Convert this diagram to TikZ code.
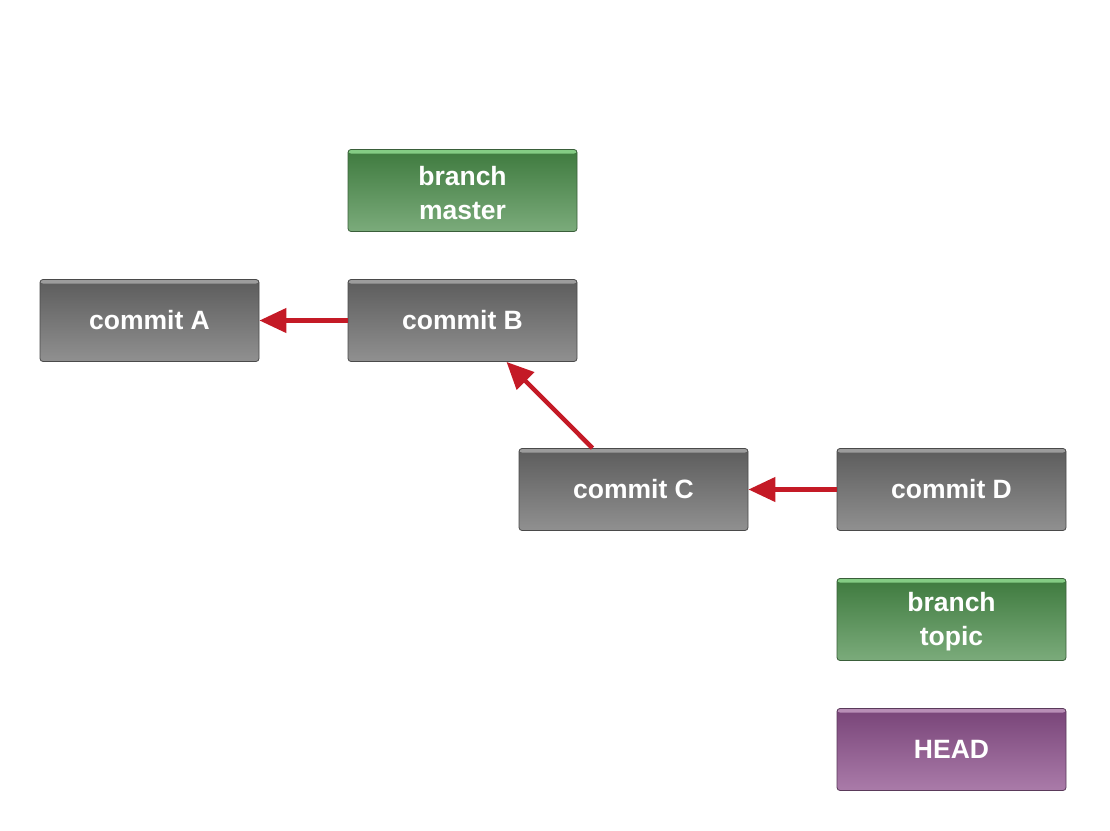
\documentclass[tikz,border=0pt]{standalone}
\usepackage{fontspec}
\setmainfont{Liberation Sans}
\usetikzlibrary{arrows.meta}
\definecolor{gtop}{HTML}{5C5C5C}
\definecolor{gbot}{HTML}{909090}
\definecolor{ghl}{HTML}{9C9C9C}
\definecolor{gedge}{HTML}{4A4A4A}
\definecolor{ntop}{HTML}{3E7A3E}
\definecolor{nbot}{HTML}{7BAB7B}
\definecolor{nhl}{HTML}{84CC84}
\definecolor{nedge}{HTML}{3A5F3A}
\definecolor{ptop}{HTML}{784478}
\definecolor{pbot}{HTML}{AA7BA9}
\definecolor{phl}{HTML}{B88EB6}
\definecolor{pedge}{HTML}{5A3A5A}
\definecolor{arrowred}{HTML}{C41A26}
\newcommand\toplift{\rule{0pt}{24pt}}
\tikzset{
  basebox/.style={rectangle, rounded corners=3pt, minimum width=229pt, minimum height=82pt,
    line width=0.8pt, text=white, align=center, inner sep=0pt,
    font=\fontsize{26.5}{34}\selectfont\bfseries},
  hl/.style={path picture={\fill[#1] (path picture bounding box.north west) rectangle ([yshift=-4pt]path picture bounding box.north east);}},
  commitbox/.style={basebox, draw=gedge, top color=gtop, bottom color=gbot, hl=ghl},
  branchbox/.style={basebox, draw=nedge, top color=ntop, bottom color=nbot, hl=nhl},
  headbox/.style={basebox, draw=pedge, top color=ptop, bottom color=pbot, hl=phl},
  parent/.style={draw=arrowred, line width=4.5pt, -{Triangle[length=27pt,width=24pt]}}
}
\begin{document}
\begin{tikzpicture}[x=1pt,y=-1pt]
\useasboundingbox (0,0) rectangle (1110,830);
\node[commitbox, minimum width=219pt] (A) at (149.5,320.5) {commit A};
\node[commitbox] (B) at (462.5,320.5) {commit B};
\node[branchbox] (master) at (462.5,190.5) {\toplift branch\\master};
\node[commitbox] (C) at (633.5,489.5) {commit C};
\node[commitbox] (D) at (951.5,489.5) {commit D};
\node[branchbox] (topic) at (951.5,619.5) {\toplift branch\\topic};
\node[headbox] (head) at (951.5,749.5) {HEAD};
\draw[parent] (B.west) -- (A.east);
\draw[parent] ([xshift=-41pt]C.north) -- ([xshift=44pt]B.south);
\draw[parent] (D.west) -- (C.east);
\end{tikzpicture}
\end{document}
